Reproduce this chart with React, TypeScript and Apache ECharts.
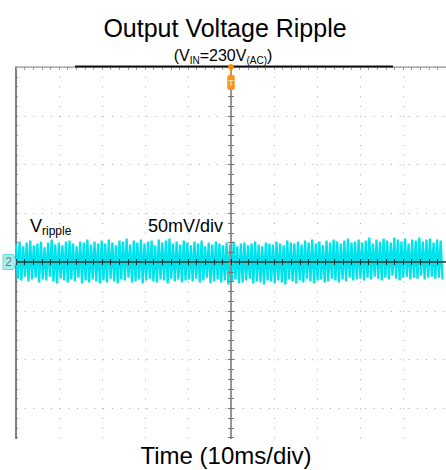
import React, { useEffect, useRef } from "react";
import * as echarts from "echarts";

// Axis ranges (oscilloscope divisions)
const TIME_MIN = -50; // ms
const TIME_MAX = 50;
const TIME_DIV = 10; // 10 ms/div
const V_MIN = -200; // mV
const V_MAX = 200;
const V_DIV = 50; // 50 mV/div

const SAMPLE_START = -50;
const SAMPLE_STEP = 0.83;
const ripplePeaks = [
  18, 21, 16, 20, 22, 17, 19, 21, 15, 20, 23, 18, 20, 17, 21, 22, 19, 16, 21, 20, 23, 18, 21, 19,
  22, 19, 23, 20, 17, 22, 21, 24, 18, 22, 20, 23, 19, 21, 22, 17, 23, 20, 22, 24, 19, 21, 18, 22,
  20, 17, 21, 19, 22, 16, 20, 18, 21, 19, 17, 20, 18, 21, 16, 19, 20, 17, 19, 21, 18, 16, 20, 19,
  18, 21, 19, 17, 22, 20, 19, 21, 18, 22, 20, 23, 19, 21, 17, 22, 20, 23, 21, 19, 22, 24, 20, 21,
  23, 20, 22, 25, 19, 23, 21, 24, 22, 20, 25, 23, 21, 24, 19, 23, 22, 25, 21, 23, 24, 20, 23, 22,
];
const rippleTroughs = [
  -17, -19, -15, -20, -18, -16, -21, -18, -19, -15, -20, -22, -17, -19, -21, -18, -20, -16, -22, -19, -21, -18, -20, -22,
  -19, -21, -17, -20, -22, -18, -19, -16, -21, -20, -18, -22, -19, -17, -20, -21, -18, -19, -22, -17, -20, -18, -21, -19,
  -18, -20, -17, -21, -19, -16, -22, -20, -18, -21, -19, -23, -20, -18, -22, -21, -19, -17, -22, -20, -21, -23, -19, -20,
  -22, -19, -21, -23, -18, -20, -22, -19, -21, -17, -20, -22, -19, -18, -21, -20, -17, -19, -21, -18, -20, -16, -19, -18,
  -17, -19, -16, -18, -15, -17, -19, -16, -18, -14, -17, -19, -16, -15, -18, -16, -17, -14, -18, -16, -15, -17, -16, -18,
];

const TITLE = "Output Voltage Ripple";
const X_LABEL = "Time (10ms/div)";
const SCALE_LABEL = "50mV/div";
const CHANNEL = "2";

const FONT = "'Liberation Sans', Arial, sans-serif";

function buildTrace(): [number, number][] {
  const out: [number, number][] = [];
  ripplePeaks.forEach((p, i) => {
    const t = SAMPLE_START + i * SAMPLE_STEP;
    out.push([t, p]);
    out.push([t + SAMPLE_STEP / 2, rippleTroughs[i]]);
  });
  return out;
}

const tick = (color: string, len: number) => ({
  axisTick: { show: true, inside: true, length: len, lineStyle: { color, width: 1 } },
  minorTick: { show: true, splitNumber: 5, length: len, lineStyle: { color, width: 1 } },
  axisLabel: { show: false },
});

export default function App() {
  const ref = useRef<HTMLDivElement>(null);
  useEffect(() => {
    if (!ref.current) return;
    const chart = echarts.init(ref.current, undefined, { renderer: "svg" });
    const xBase = { type: "value" as const, min: TIME_MIN, max: TIME_MAX, interval: TIME_DIV };
    const yBase = { type: "value" as const, min: V_MIN, max: V_MAX, interval: V_DIV };
    chart.setOption({
      animation: false,
      backgroundColor: "#fff",
      grid: { left: 16, top: 67, width: 436, height: 390, containLabel: false },
      xAxis: [
        {
          ...xBase,
          position: "bottom",
          axisLine: { show: true, onZero: true, onZeroAxisIndex: 0, lineStyle: { color: "#1f3333", width: 1.5 } },
          ...tick("#1f3333", 3),
          splitLine: { show: false },
          z: 5,
        },
        {
          ...xBase,
          position: "top",
          axisLine: { show: false, onZero: true, onZeroAxisIndex: 0 },
          ...tick("#1f3333", 3),
          splitLine: { show: false },
          z: 5,
        },
        {
          ...xBase,
          position: "top",
          axisLine: { show: true, onZero: false, lineStyle: { color: "#999", width: 1.5 } },
          ...tick("#999", 3),
          splitLine: { show: true, lineStyle: { color: "#aaa", width: 1, type: [1, 8.75] } },
          z: 0,
        },
      ],
      yAxis: [
        {
          ...yBase,
          position: "left",
          axisLine: { show: true, onZero: true, onZeroAxisIndex: 0, lineStyle: { color: "#8a8a8a", width: 1.8 } },
          ...tick("#777", 3),
          splitLine: { show: false },
          z: 5,
        },
        {
          ...yBase,
          position: "right",
          axisLine: { show: false, onZero: true, onZeroAxisIndex: 0 },
          ...tick("#777", 3),
          splitLine: { show: false },
          z: 5,
        },
        {
          ...yBase,
          position: "left",
          axisLine: { show: true, onZero: false, lineStyle: { color: "#555", width: 1.5 } },
          ...tick("#888", 2),
          splitLine: { show: true, lineStyle: { color: "#aaa", width: 1, type: [1, 7.72] } },
          z: 0,
        },
      ],
      series: [
        {
          type: "line",
          xAxisIndex: 0,
          yAxisIndex: 0,
          data: buildTrace(),
          symbol: "none",
          lineStyle: { color: "#00E3EC", width: 2.3, join: "miter", miterLimit: 3 },
          z: 2,
        },
      ],
    });

    const [cx, cy] = chart.convertToPixel({ xAxisIndex: 0, yAxisIndex: 0 }, [0, 0]) as number[];
    const [, topY] = chart.convertToPixel({ xAxisIndex: 0, yAxisIndex: 0 }, [0, V_MAX]) as number[];
    const [leftX] = chart.convertToPixel({ xAxisIndex: 0, yAxisIndex: 0 }, [TIME_MIN, 0]) as number[];

    chart.setOption({
      graphic: [
        { type: "rect", shape: { x: 0, y: 439, width: 446, height: 31 }, style: { fill: "#fff" }, z: 10 },
        { type: "rect", shape: { x: 0, y: 0, width: 446, height: topY - 0.8 }, style: { fill: "#fff" }, z: 10 },
        {
          type: "line",
          shape: { x1: 75, y1: topY - 0.5, x2: 393, y2: topY - 0.5 },
          style: { stroke: "#111", lineWidth: 2 },
          z: 11,
        },
        {
          type: "text",
          x: 225,
          y: 28,
          style: { text: TITLE, fontSize: 25, fontFamily: FONT, fill: "#000", align: "center", verticalAlign: "middle" },
          z: 12,
        },
        {
          type: "text",
          x: 223,
          y: 55,
          style: {
            text: "{m|(V}{s|IN}{m|=230V}{s|(AC)}{m|)}",
            align: "center",
            verticalAlign: "middle",
            fontFamily: FONT,
            fill: "#000",
            rich: {
              m: { fontSize: 16, lineHeight: 20, fontFamily: FONT, fill: "#000" },
              s: { fontSize: 10, lineHeight: 10, verticalAlign: "bottom", fontFamily: FONT, fill: "#000" },
            },
          },
          z: 12,
        },
        {
          type: "text",
          x: 30,
          y: 226,
          style: {
            text: "{m|V}{s|ripple}",
            align: "left",
            verticalAlign: "middle",
            fontFamily: FONT,
            fill: "#000",
            rich: {
              m: { fontSize: 18, lineHeight: 22, fontFamily: FONT, fill: "#000" },
              s: { fontSize: 12, lineHeight: 12, verticalAlign: "bottom", fontFamily: FONT, fill: "#000" },
            },
          },
          z: 12,
        },
        {
          type: "text",
          x: 148,
          y: 226,
          style: { text: SCALE_LABEL, fontSize: 18, fontFamily: FONT, fill: "#000", align: "left", verticalAlign: "middle" },
          z: 12,
        },
        {
          type: "text",
          x: 226,
          y: 455,
          style: { text: X_LABEL, fontSize: 24, fontFamily: FONT, fill: "#000", align: "center", verticalAlign: "middle" },
          z: 12,
        },
        // channel 2 ground marker
        {
          type: "polygon",
          shape: {
            points: [
              [leftX - 13, cy - 7.5],
              [leftX - 2.5, cy - 7.5],
              [leftX, cy],
              [leftX - 2.5, cy + 7.5],
              [leftX - 13, cy + 7.5],
            ],
          },
          style: { fill: "#A8EEEE", stroke: "#6fd8d8", lineWidth: 1 },
          z: 12,
        },
        {
          type: "text",
          x: leftX - 7.5,
          y: cy,
          style: { text: CHANNEL, fontSize: 12, fontFamily: FONT, fill: "#6b7b7b", align: "center", verticalAlign: "middle" },
          z: 13,
        },
        // trigger marker
        { type: "line", shape: { x1: cx, y1: topY, x2: cx, y2: topY + 8 }, style: { stroke: "#F39200", lineWidth: 1.5 }, z: 12 },
        { type: "circle", shape: { cx: cx, cy: topY, r: 3 }, style: { fill: "#F39200" }, z: 12 },
        {
          type: "rect",
          shape: { x: cx - 3.7, y: topY + 8, width: 7.4, height: 15, r: 2 },
          style: { fill: "#F7941D" },
          z: 12,
        },
        {
          type: "text",
          x: cx,
          y: topY + 15.5,
          style: { text: "T", fontSize: 9, fontWeight: "bold", fontFamily: FONT, fill: "#FFD9A0", align: "center", verticalAlign: "middle" },
          z: 13,
        },
      ],
    });
    return () => chart.dispose();
  }, []);
  return (
    <div
      ref={ref}
      style={{ position: "fixed", left: 0, top: 0, width: 446, height: 470, overflow: "hidden", background: "#fff" }}
    />
  );
}
